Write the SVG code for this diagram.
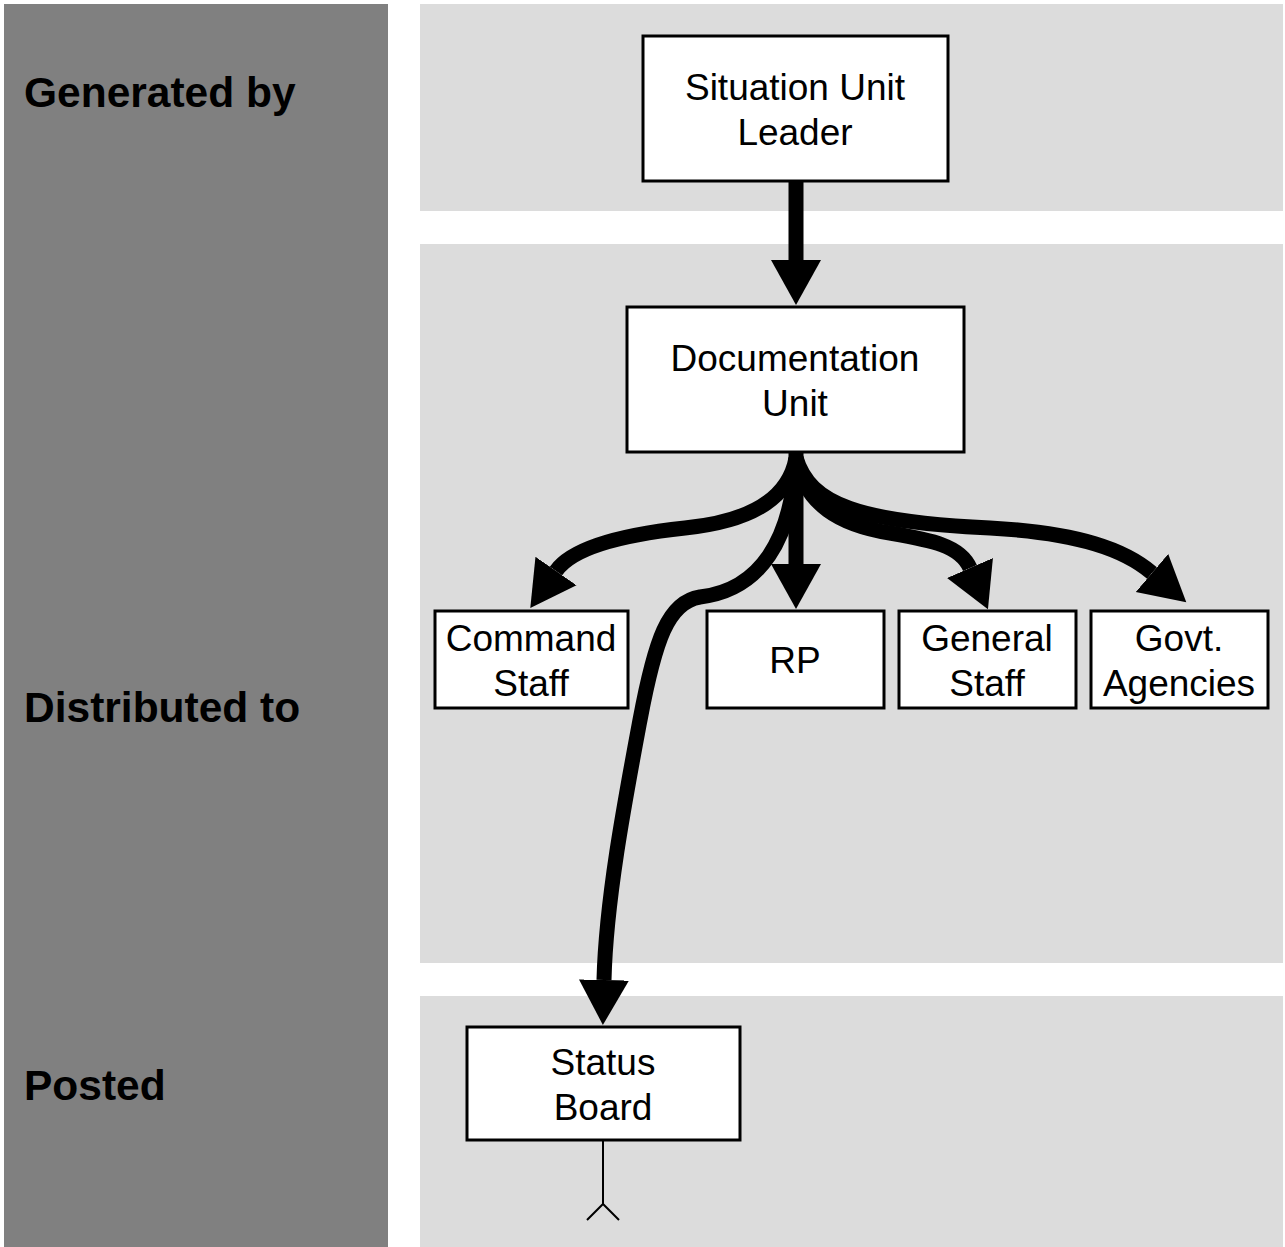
<svg xmlns="http://www.w3.org/2000/svg" width="1285" height="1247" viewBox="0 0 1285 1247">
<style>
.lane{fill:#808080}
.panel{fill:#dcdcdc}
.lbl{font-family:"Liberation Sans",Arial,sans-serif;font-weight:bold;font-size:42.5px;fill:#000}
.box{fill:#fff;stroke:#000;stroke-width:3}
.t{font-family:"Liberation Sans",Arial,sans-serif;font-size:37px;fill:#000;text-anchor:middle}
.c{fill:none;stroke:#000;stroke-width:15}
.thin{fill:none;stroke:#000;stroke-width:2}
</style>
<defs>
<marker id="ah" markerUnits="userSpaceOnUse" markerWidth="46" markerHeight="52" refX="0" refY="26" orient="auto" viewBox="0 0 46 52">
<path d="M0,1 L45,26 L0,51 z" fill="#000"/>
</marker>
</defs>
<rect class="lane" x="4" y="4" width="384" height="1243"/>
<rect class="panel" x="420" y="4" width="863" height="207"/>
<rect class="panel" x="420" y="244" width="863" height="719"/>
<rect class="panel" x="420" y="996" width="863" height="251"/>
<text class="lbl" x="24" y="107">Generated by</text>
<text class="lbl" x="24" y="722">Distributed to</text>
<text class="lbl" x="24" y="1100">Posted</text>
<g id="connectors">
<path class="c" d="M796,181 L796,260" marker-end="url(#ah)"/>
<path class="c" d="M796,452 L796,564" marker-end="url(#ah)"/>
<path class="c" d="M796,458 C788,502 745,522 685,528 C620,535 572,548 556,571" marker-end="url(#ah)"/>
<path class="c" d="M796,458 C805,505 840,525 890,533 C930,540 960,545 970,568" marker-end="url(#ah)"/>
<path class="c" d="M796,458 C810,505 860,522 990,528 C1080,533 1125,550 1152,573" marker-end="url(#ah)"/>
<path class="c" d="M796,458 C792,540 760,590 700,597 C668,602 655,640 640,720 C625,800 606,900 604,980" marker-end="url(#ah)"/>
<path class="thin" d="M603,1140 L603,1204 M587,1220 L603,1204 L619,1220"/>
</g>
<g id="situation-unit-leader">
<rect class="box" x="643" y="36" width="305" height="145"/>
<text class="t" x="795" y="100">Situation Unit</text>
<text class="t" x="795" y="145">Leader</text>
</g>
<g id="documentation-unit">
<rect class="box" x="627" y="307" width="337" height="145"/>
<text class="t" x="795" y="371">Documentation</text>
<text class="t" x="795" y="416">Unit</text>
</g>
<g id="command-staff">
<rect class="box" x="435" y="611" width="193" height="97"/>
<text class="t" x="531" y="651">Command</text>
<text class="t" x="531" y="696">Staff</text>
</g>
<g id="rp">
<rect class="box" x="707" y="611" width="177" height="97"/>
<text class="t" x="795" y="673">RP</text>
</g>
<g id="general-staff">
<rect class="box" x="899" y="611" width="177" height="97"/>
<text class="t" x="987" y="651">General</text>
<text class="t" x="987" y="696">Staff</text>
</g>
<g id="govt-agencies">
<rect class="box" x="1091" y="611" width="177" height="97"/>
<text class="t" x="1179" y="651">Govt.</text>
<text class="t" x="1179" y="696">Agencies</text>
</g>
<g id="status-board">
<rect class="box" x="467" y="1027" width="273" height="113"/>
<text class="t" x="603" y="1075">Status</text>
<text class="t" x="603" y="1120">Board</text>
</g>
</svg>
